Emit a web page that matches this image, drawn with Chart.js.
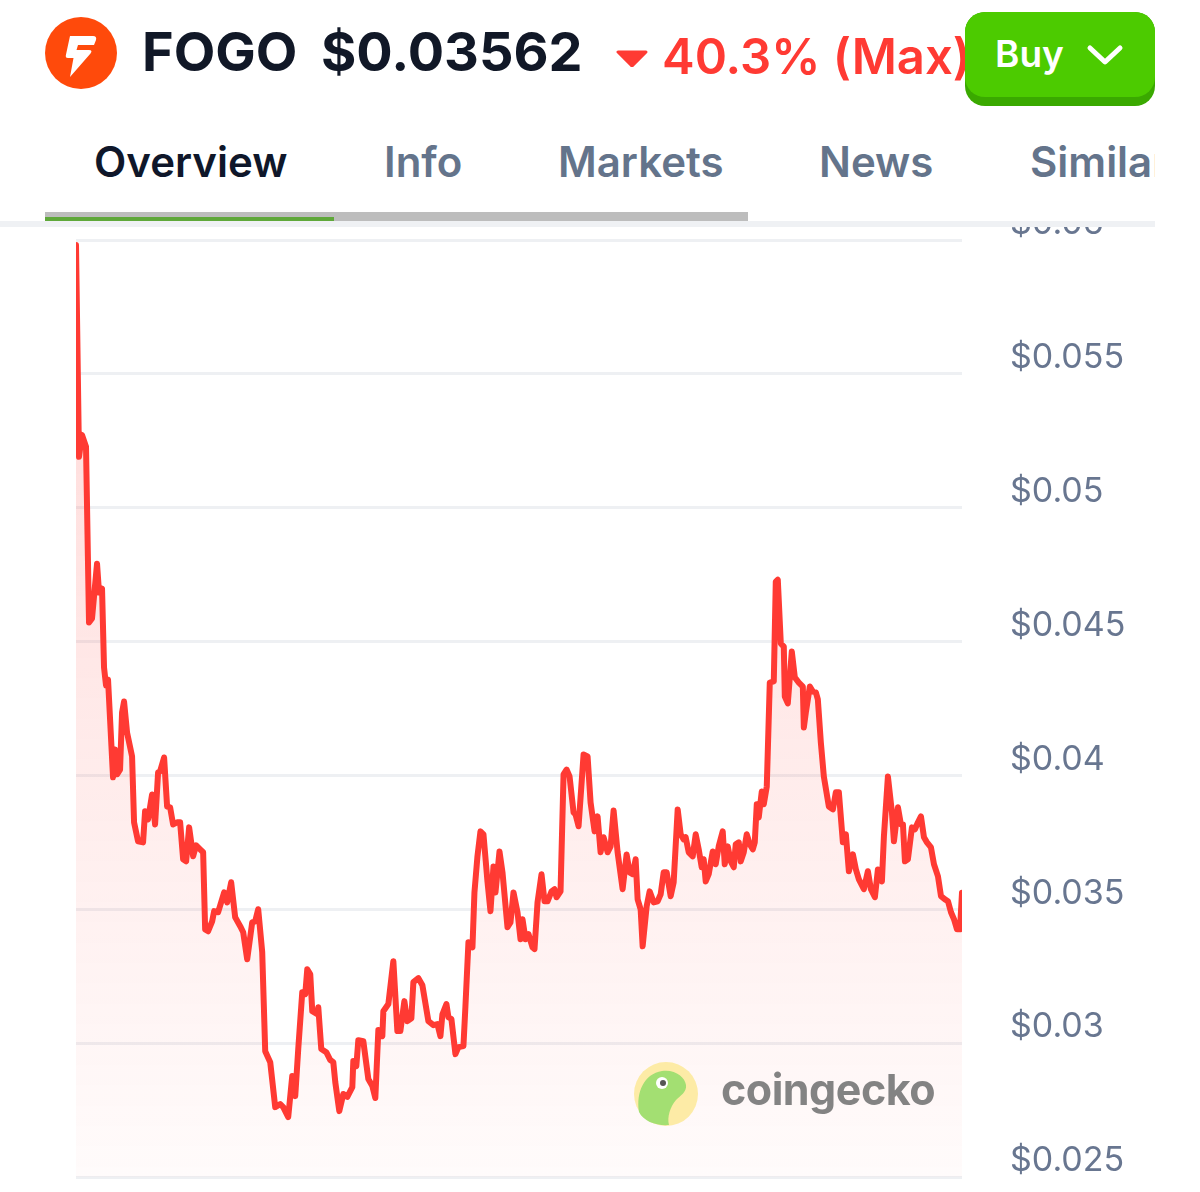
<!DOCTYPE html>
<html><head><meta charset="utf-8">
<script src="https://cdn.jsdelivr.net/npm/chart.js@4.4.1/dist/chart.umd.min.js"></script>
<style>
html,body{margin:0;padding:0;background:#fff;width:1200px;height:1192px;overflow:hidden;font-family:Inter,"Noto Sans",sans-serif;}
#wrap{position:relative;width:1200px;height:1192px;}
#cv{position:absolute;left:0;top:200px;z-index:1;}
#hdr{position:absolute;left:0;top:0;width:1200px;height:221px;background:#fff;z-index:3;}
#shadow{position:absolute;left:0;top:221px;width:1155px;height:6px;background:#eff1f4;z-index:3;}
.t{position:absolute;white-space:nowrap;line-height:1;}
.tab{position:absolute;top:141px;font-size:42px;font-weight:600;color:#64748b;line-height:1;white-space:nowrap;}
#tabs{position:absolute;left:0;top:0;width:1155px;height:221px;overflow:hidden;}
#buy{position:absolute;left:965px;top:12px;width:190px;height:94px;border-radius:20px;background:#3aa900;}
#buyTop{position:absolute;left:0;top:0;width:190px;height:85px;border-radius:20px;background:#4ccb00;}
#wm{position:absolute;left:632px;top:1060px;z-index:2;}
#wmText{position:absolute;left:721px;top:1068px;font-size:43px;font-weight:700;color:#7d7d7d;z-index:2;line-height:1;letter-spacing:-0.5px;opacity:0.95;}
</style></head>
<body><div id="wrap">
<canvas id="cv" width="1200" height="992"></canvas>
<div id="hdr">
  <svg class="t" style="left:45px;top:17px" width="72" height="72" viewBox="0 0 72 72">
    <circle cx="36" cy="36" r="36" fill="#ff4a0b"/>
    <path d="M25 19 L48 19 Q52 19 51 23 L49 28 L33 28 L31.5 33 L44 33 Q48 33 45.5 36.5 L25 60 L28.5 41 L23 41 Q20 41 21 37.5 Z" fill="#fff"/>
  </svg>
  <span class="t" style="left:142px;top:25px;font-size:54px;font-weight:700;color:#111827">FOGO</span>
  <span class="t" style="left:321px;top:25px;font-size:54px;font-weight:700;color:#111827">$0.03562</span>
  <svg class="t" style="left:616px;top:50px" width="32" height="17" viewBox="0 0 32 17"><path d="M2 2 L30 2 L16 16 Z" fill="#ff3a33" stroke="#ff3a33" stroke-width="3" stroke-linejoin="round"/></svg>
  <span class="t" style="left:662px;top:32px;font-size:49px;font-weight:600;color:#ff3a33">40.3% (Max)</span>
  <div id="buy"><div id="buyTop">
    <span class="t" style="left:30px;top:23px;font-size:37px;font-weight:600;color:#fff">Buy</span>
    <svg class="t" style="left:121px;top:31px" width="38" height="24" viewBox="0 0 38 24"><path d="M4 5 L19 19 L34 5" fill="none" stroke="#fff" stroke-width="5" stroke-linecap="round" stroke-linejoin="round"/></svg>
  </div></div>
  <div id="tabs">
    <span class="tab" style="left:94px;color:#0f172a">Overview</span>
    <span class="tab" style="left:384px">Info</span>
    <span class="tab" style="left:558px">Markets</span>
    <span class="tab" style="left:819px">News</span>
    <span class="tab" style="left:1030px">Similar</span>
  </div>
  <div style="position:absolute;left:45px;top:212px;width:703px;height:11px;background:#bdbdbd"></div>
  <div style="position:absolute;left:45px;top:217px;width:289px;height:6px;background:#5fa83a"></div>
</div>
<div id="shadow"></div>
<svg id="wm" width="68" height="68" viewBox="0 0 68 68">
  <circle cx="34" cy="34" r="32" fill="#fdeba6"/>
  <path d="M7 52 C4 32 12 14 30 11 C43 9 53 17 54 25 C55 32 48 36 44 40 C38 47 35 57 37 65 C25 66 12 62 7 52 Z" fill="#a3df72"/>
  <circle cx="30" cy="23" r="6" fill="#fff"/>
  <circle cx="31" cy="23" r="3" fill="#555"/>
</svg>
<span id="wmText">coingecko</span>
</div>
<script>
const days = [0.0,0.3,0.6,1.0,1.3,1.6,2.1,2.3,2.6,2.8,
3.0,3.2,3.7,3.9,4.1,4.4,4.6,4.8,5.1,5.6,
5.8,6.2,6.7,6.9,7.2,7.6,7.9,8.2,8.4,8.8,
9.1,9.4,9.7,10.1,10.4,10.7,11.0,11.3,11.7,12.0,
12.4,12.7,12.9,13.2,13.6,13.8,14.2,14.8,15.1,15.5,
15.9,16.4,16.7,17.1,17.6,17.9,18.2,18.6,18.9,19.4,
19.9,20.4,20.7,21.2,21.6,21.9,22.2,22.6,22.9,23.1,
23.4,23.6,24.1,24.2,24.5,25.0,25.4,25.7,25.9,26.3,
26.7,27.1,27.6,27.7,28.0,28.2,28.7,29.2,29.6,29.9,
30.2,30.6,30.7,31.2,31.7,32.1,32.4,32.8,33.1,33.5,
33.7,34.2,34.6,35.2,35.7,36.1,36.4,36.6,37.0,37.2,
37.5,37.9,38.2,38.7,38.9,39.2,39.6,39.8,40.1,40.4,
40.7,41.1,41.4,41.7,41.9,42.3,42.6,43.1,43.4,43.7,
44.1,44.4,44.6,44.9,45.2,45.6,45.8,46.1,46.5,46.8,
47.1,47.5,47.8,48.0,48.4,48.7,49.0,49.3,49.7,49.9,
50.2,50.7,51.1,51.4,51.8,52.1,52.4,52.7,53.1,53.4,
53.7,54.1,54.6,55.0,55.3,55.6,55.9,56.1,56.4,56.6,
57.0,57.3,57.7,58.1,58.4,58.7,59.0,59.4,59.7,60.1,
60.4,60.7,60.9,61.2,61.6,61.9,62.2,62.5,62.7,62.9,
63.2,63.6,63.9,64.2,64.6,64.8,65.1,65.4,65.7,65.9,
66.2,66.4,66.7,67.0,67.3,67.6,67.8,68.0,68.2,68.5,
68.7,69.0,69.3,69.7,69.9,70.1,70.4,70.7,70.8,71.1,
71.5,71.8,72.2,72.6,72.7,72.9,73.3,73.6,73.9,74.1,
74.4,74.7,75.2,75.6,75.9,76.2,76.6,76.9,77.2,77.6,
77.9,78.2,78.7,79.1,79.4,79.8,80.1,80.5,80.7,81.1,
81.5,81.7,82.1,82.4,82.6,82.8,83.1,83.5,83.8,84.1,
84.4,84.7,85.0,85.4,85.7,86.1,86.4,86.8,87.1,87.4,
87.7,88.0,88.3,88.5];
const prices = [0.05981,0.05190,0.05272,0.05228,0.04571,0.04586,0.04791,0.04683,0.04698,0.04403,
0.04336,0.04358,0.03993,0.04097,0.04004,0.04022,0.04235,0.04276,0.04160,0.04071,
0.03825,0.03754,0.03750,0.03866,0.03836,0.03929,0.03817,0.04011,0.04015,0.04067,
0.03884,0.03881,0.03817,0.03825,0.03825,0.03687,0.03679,0.03806,0.03698,0.03739,
0.03724,0.03713,0.03425,0.03418,0.03455,0.03493,0.03489,0.03563,0.03526,0.03601,
0.03470,0.03437,0.03414,0.03313,0.03451,0.03455,0.03500,0.03340,0.02970,0.02929,
0.02761,0.02772,0.02761,0.02724,0.02877,0.02802,0.02978,0.03190,0.03183,0.03276,
0.03257,0.03119,0.03108,0.03134,0.02978,0.02966,0.02937,0.02929,0.02854,0.02746,
0.02810,0.02799,0.02836,0.02933,0.02914,0.03011,0.03007,0.02866,0.02840,0.02795,
0.03049,0.03026,0.03119,0.03146,0.03306,0.03045,0.03045,0.03157,0.03082,0.03093,
0.03228,0.03243,0.03216,0.03082,0.03067,0.03071,0.03026,0.03108,0.03146,0.03097,
0.03090,0.02959,0.02985,0.02989,0.03138,0.03377,0.03358,0.03563,0.03698,0.03791,
0.03780,0.03604,0.03493,0.03660,0.03563,0.03716,0.03638,0.03433,0.03451,0.03563,
0.03489,0.03388,0.03463,0.03388,0.03407,0.03358,0.03351,0.03526,0.03631,0.03530,
0.03530,0.03567,0.03575,0.03545,0.03567,0.04004,0.04022,0.03996,0.03862,0.03854,
0.03810,0.04078,0.04071,0.03899,0.03791,0.03847,0.03713,0.03769,0.03713,0.03735,
0.03869,0.03713,0.03575,0.03705,0.03638,0.03631,0.03687,0.03537,0.03500,0.03362,
0.03511,0.03567,0.03526,0.03530,0.03556,0.03638,0.03638,0.03549,0.03601,0.03873,
0.03780,0.03761,0.03769,0.03713,0.03698,0.03780,0.03724,0.03657,0.03687,0.03604,
0.03631,0.03716,0.03668,0.03735,0.03791,0.03668,0.03735,0.03679,0.03657,0.03743,
0.03750,0.03679,0.03713,0.03780,0.03743,0.03724,0.03750,0.03892,0.03843,0.03940,
0.03892,0.03959,0.04347,0.04351,0.04724,0.04731,0.04493,0.04481,0.04295,0.04269,
0.04463,0.04366,0.04347,0.04332,0.04179,0.04235,0.04332,0.04313,0.04310,0.04284,
0.04123,0.03996,0.03884,0.03873,0.03937,0.03937,0.03750,0.03780,0.03642,0.03705,
0.03649,0.03612,0.03575,0.03642,0.03575,0.03545,0.03649,0.03604,0.03772,0.03996,
0.03862,0.03754,0.03881,0.03817,0.03817,0.03679,0.03687,0.03806,0.03799,0.03825,
0.03847,0.03769,0.03750,0.03731,0.03668,0.03623,0.03549,0.03537,0.03530,0.03489,
0.03463,0.03425,0.03425,0.03562];
const yTickValues = [0.025,0.03,0.035,0.04,0.045,0.05,0.055,0.06];
const lineColor = '#ff3a33';

const ctx = document.getElementById('cv');
new Chart(ctx, {
  type: 'line',
  data: {
    datasets: [{
      data: days.map((d, i) => ({ x: d, y: prices[i] })),
      borderColor: lineColor,
      borderWidth: 6,
      pointRadius: 0,
      tension: 0,
      borderJoinStyle: 'round',
      borderCapStyle: 'round',
      fill: 'start',
      backgroundColor: (c) => {
        const a = c.chart.chartArea;
        if (!a) return 'rgba(255,58,51,0.1)';
        const g = c.chart.ctx.createLinearGradient(0, a.top, 0, a.bottom);
        g.addColorStop(0, 'rgba(255,58,51,0.20)');
        g.addColorStop(1, 'rgba(255,58,51,0.02)');
        return g;
      }
    }]
  },
  options: {
    responsive: false,
    animation: false,
    devicePixelRatio: 1,
    layout: { padding: { left: 76, top: 40, bottom: 15, right: 0 } },
    plugins: { legend: { display: false }, tooltip: { enabled: false } },
    scales: {
      x: { type: 'linear', display: false, min: 0, max: days[days.length - 1] },
      y: {
        position: 'right',
        min: 0.025, max: 0.06,
        afterBuildTicks: (s) => { s.ticks = yTickValues.map(v => ({ value: v })); },
        afterFit: (s) => { s.width = 238; s.paddingTop = 0; s.paddingBottom = 0; },
        border: { display: false },
        grid: { color: '#eef0f3', lineWidth: 3, drawTicks: false },
        ticks: {
          padding: 48,
          labelOffset: -16,
          color: '#687690',
          font: { family: 'Inter', size: 34 },
          callback: (v) => '$' + (+Number(v).toFixed(3))
        }
      }
    }
  }
});
</script>
</body></html>
